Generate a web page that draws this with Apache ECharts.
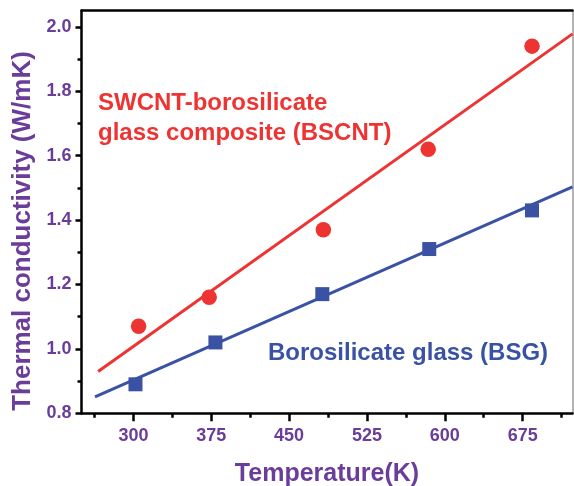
<!DOCTYPE html>
<html>
<head>
<meta charset="utf-8">
<script src="https://cdn.jsdelivr.net/npm/echarts@6/dist/echarts.min.js"></script>
<style>
  html, body { margin: 0; padding: 0; background: #fff; }
  #chart { width: 574px; height: 486px; }
</style>
</head>
<body>
<div id="chart"></div>
<script>
// Measured thermal conductivity vs. temperature
const tempBSCNT = [305, 373, 483, 584, 684];
const kBSCNT = [1.07, 1.16, 1.37, 1.62, 1.94];
const tempBSG = [302, 379, 482, 585, 684];
const kBSG = [0.89, 1.02, 1.17, 1.31, 1.43];

// Linear fit end points [temperature, conductivity]
const fitBSCNT = [[266, 0.93], [723, 1.978]];
const fitBSG = [[263, 0.851], [723, 1.503]];

// Tick positions
const xMajorTicks = [300, 375, 450, 525, 600, 675];
const xMinorTicks = [262.5, 337.5, 412.5, 487.5, 562.5, 637.5, 712.5];
const yMajorTicks = [0.8, 1.0, 1.2, 1.4, 1.6, 1.8, 2.0];
const yMinorTicks = [0.9, 1.1, 1.3, 1.5, 1.7, 1.9];

const X_MIN = 250, X_MAX = 723, Y_MIN = 0.8, Y_MAX = 2.05;

const PURPLE = '#6A3D9A';
const RED = '#EE3333';
const BLUE = '#3A52A4';
const FONT = 'Arial, "Liberation Sans", sans-serif';

const zip = (xs, ys) => xs.map((x, i) => [x, ys[i]]);

const chart = echarts.init(document.getElementById('chart'), null, { renderer: 'canvas' });

const baseX = { type: 'value', min: X_MIN, max: X_MAX, gridIndex: 0, splitLine: { show: false } };
const baseY = { type: 'value', min: Y_MIN, max: Y_MAX, gridIndex: 0, splitLine: { show: false } };

chart.setOption({
  animation: false,
  backgroundColor: '#fff',
  grid: { left: 81.5, right: 1.5, top: 10.7, bottom: 72.7, containLabel: false, outerBoundsMode: 'none' },
  xAxis: [
    Object.assign({}, baseX, {
      position: 'bottom',
      name: 'Temperature(K)',
      nameLocation: 'middle',
      nameGap: 48,
      nameTextStyle: { color: PURPLE, fontFamily: FONT, fontWeight: 'bold', fontSize: 25 },
      axisLine: { show: true, onZero: false, lineStyle: { color: '#000', width: 2.5 } },
      axisTick: { show: true, customValues: xMajorTicks, length: 8, lineStyle: { color: '#000', width: 2.5 } },
      axisLabel: { customValues: xMajorTicks, margin: 14, color: PURPLE, fontFamily: FONT, fontWeight: 'bold', fontSize: 18 }
    }),
    Object.assign({}, baseX, {
      position: 'bottom',
      axisLine: { show: false },
      axisTick: { show: true, customValues: xMinorTicks, length: 4.5, lineStyle: { color: '#000', width: 2.5 } },
      axisLabel: { show: false }
    }),
    Object.assign({}, baseX, {
      position: 'top',
      axisLine: { show: true, onZero: false, lineStyle: { color: '#000', width: 2.5 } },
      axisTick: { show: false },
      axisLabel: { show: false }
    })
  ],
  yAxis: [
    Object.assign({}, baseY, {
      position: 'left',
      name: 'Thermal conductivity (W/mK)',
      nameLocation: 'middle',
      nameGap: 46,
      nameTextStyle: { color: PURPLE, fontFamily: FONT, fontWeight: 'bold', fontSize: 26, padding: [0, 38, 0, 0] },
      axisLine: { show: true, onZero: false, lineStyle: { color: '#000', width: 2.5 } },
      axisTick: { show: true, customValues: yMajorTicks, length: 6, lineStyle: { color: '#000', width: 2.5 } },
      axisLabel: { customValues: yMajorTicks, margin: 10, color: PURPLE, fontFamily: FONT, fontWeight: 'bold', fontSize: 18,
        formatter: v => v.toFixed(1) }
    }),
    Object.assign({}, baseY, {
      position: 'left',
      axisLine: { show: false },
      axisTick: { show: true, customValues: yMinorTicks, length: 4, lineStyle: { color: '#000', width: 2.5 } },
      axisLabel: { show: false }
    }),
    Object.assign({}, baseY, {
      position: 'right',
      axisLine: { show: true, onZero: false, lineStyle: { color: '#9a9a9a', width: 1.5 } },
      axisTick: { show: false },
      axisLabel: { show: false }
    })
  ],
  graphic: [
    {
      type: 'text', left: 98, top: 88, z: 10,
      style: { text: 'SWCNT-borosilicate\nglass composite (BSCNT)', fill: RED,
        font: 'bold 24px ' + FONT, lineHeight: 30 }
    },
    {
      type: 'text', left: 268, top: 341, z: 10,
      style: { text: 'Borosilicate glass (BSG)', fill: BLUE, font: 'bold 24px ' + FONT }
    }
  ],
  series: [
    {
      name: 'BSCNT fit', type: 'line', xAxisIndex: 0, yAxisIndex: 0,
      data: fitBSCNT, symbol: 'none', z: 2,
      lineStyle: { color: RED, width: 3 }
    },
    {
      name: 'BSG fit', type: 'line', xAxisIndex: 0, yAxisIndex: 0,
      data: fitBSG, symbol: 'none', z: 2,
      lineStyle: { color: BLUE, width: 3 }
    },
    {
      name: 'BSCNT', type: 'scatter', xAxisIndex: 0, yAxisIndex: 0,
      data: zip(tempBSCNT, kBSCNT), symbol: 'circle', symbolSize: 15.5, z: 3,
      itemStyle: { color: RED, opacity: 1 }
    },
    {
      name: 'BSG', type: 'scatter', xAxisIndex: 0, yAxisIndex: 0,
      data: zip(tempBSG, kBSG), symbol: 'rect', symbolSize: 14, z: 3,
      itemStyle: { color: BLUE, opacity: 1 }
    }
  ]
});
</script>
</body>
</html>
